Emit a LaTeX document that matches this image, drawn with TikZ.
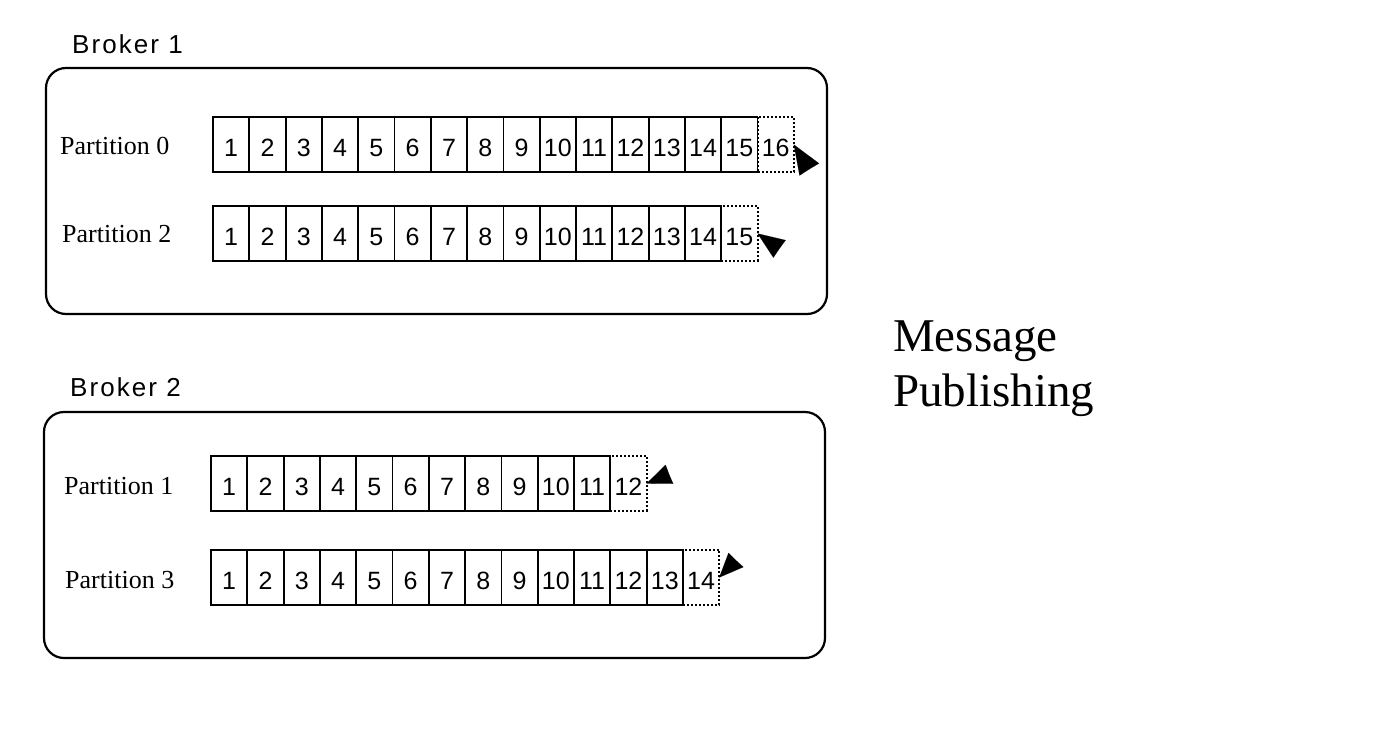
\documentclass[tikz,border=0pt]{standalone}
\usepackage{fontspec}
\setmainfont{Liberation Serif}
\setsansfont{Liberation Sans}
\usetikzlibrary{arrows.meta,calc}
\begin{document}
\begin{tikzpicture}[x=1pt,y=-1pt,
  broker/.style={draw, line width=2.2pt, rounded corners=20pt, inner sep=0pt, outer sep=0pt},
  blabel/.style={anchor=base west, inner sep=0pt, font=\fontsize{26}{30}\selectfont\sffamily\addfontfeature{LetterSpace=8}},
  plabel/.style={anchor=west, inner sep=0pt, font=\fontsize{26}{30}\selectfont\rmfamily},
  cell/.style={draw, line width=1.8pt, minimum width=36.3pt, minimum height=55pt, inner sep=0pt, outer sep=0pt, text height=24pt, text depth=0pt, font=\fontsize{25}{30}\selectfont\sffamily},
  newcell/.style={cell, line width=2pt, dash pattern=on 2pt off 2pt},
  pub/.style 2 args={-{Stealth[length=#1pt,width=#2pt,inset'=0.27]}, line width=0.1pt},
  title/.style={anchor=base west, inner sep=0pt, align=left, font=\fontsize{47}{55}\selectfont\rmfamily}
]
\useasboundingbox (0,0) rectangle (1381,731);

% Brokers
\node[blabel] (b1l) at (72,53) {Broker 1};
\node[broker, minimum width=781pt, minimum height=246pt] (b1) at (436.5,191) {};
\node[blabel] (b2l) at (70,396) {Broker 2};
\node[broker, minimum width=781pt, minimum height=246pt] (b2) at (434.5,535) {};

% Partition labels
\node[plabel] (p0l) at (60,146) {Partition 0};
\node[plabel] (p2l) at (62,234) {Partition 2};
\node[plabel] (p1l) at (64,486) {Partition 1};
\node[plabel] (p3l) at (65,580) {Partition 3};

% Partition 0
\foreach \i in {1,...,15} \node[cell] (p0c\i) at ({213+(\i-0.5)*36.3},144.5) {\i};
\node[newcell] (p0n) at ({213+15.5*36.3},144.5) {16};
% Partition 2
\foreach \i in {1,...,14} \node[cell] (p2c\i) at ({213+(\i-0.5)*36.3},233.5) {\i};
\node[newcell] (p2n) at ({213+14.5*36.3},233.5) {15};
% Partition 1
\foreach \i in {1,...,11} \node[cell] (p1c\i) at ({211+(\i-0.5)*36.3},483.5) {\i};
\node[newcell] (p1n) at ({211+11.5*36.3},483.5) {12};
% Partition 3
\foreach \i in {1,...,13} \node[cell] (p3c\i) at ({211+(\i-0.5)*36.3},577.5) {\i};
\node[newcell] (p3n) at ({211+13.5*36.3},577.5) {14};

% Publishing arrows
\coordinate (a0) at ($(p0n.east)+(15.5,25)$);
\coordinate (a2) at ($(p2n.east)+(22,15.4)$);
\coordinate (a1) at ($(p1n.east)+(22.8,-9.2)$);
\coordinate (a3) at ($(p3n.east)+(16.8,-17.6)$);
\draw[pub={29.4}{23}] (a0) -- (p0n.east);
\draw[pub={26.9}{21.4}] (a2) -- (p2n.east);
\draw[pub={24.6}{20.4}] (a1) -- (p1n.east);
\draw[pub={24.3}{20.6}] (a3) -- (p3n.east);

% Title
\node[title] (msg) at (893,406.7) {Message\\Publishing};
\end{tikzpicture}
\end{document}
